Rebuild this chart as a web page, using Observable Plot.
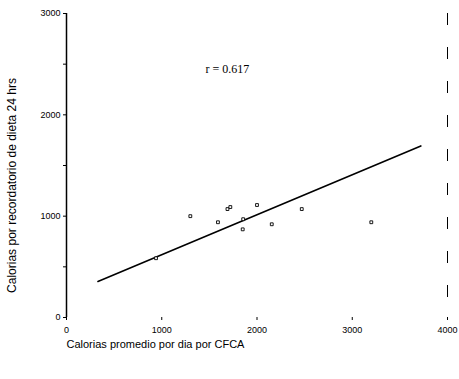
<!DOCTYPE html>
<html><head><meta charset="utf-8">
<script src="https://cdn.jsdelivr.net/npm/d3@7"></script>
<script src="https://cdn.jsdelivr.net/npm/@observablehq/plot@0.6"></script>
<style>
body{margin:0;background:#fff;}
svg{font-family:"Liberation Sans",Arial,sans-serif;}
</style></head>
<body><div id="chart"></div>
<script>
// data
const cfcaCalories = [940, 1300, 1590, 1690, 1720, 1855, 1850, 2000, 2155, 2470, 3200];
const recallCalories = [585, 1000, 940, 1070, 1090, 970, 870, 1110, 920, 1070, 940];
const fitX = [330, 3720];
const fitY = [356, 1693];
const xTicks = [0, 1000, 2000, 3000, 4000];
const yTicks = [0, 1000, 2000, 3000];
const yMinorTicks = [500, 1500, 2500];
const rLabel = ["r = 0.617"];
const rPos = {x: 1690, y: 2450};
const xTitle = ["Calorias promedio por dia por CFCA"];
const yTitle = ["Calorias por recordatorio de dieta 24 hrs"];

const points = cfcaCalories.map((x, i) => ({x, y: recallCalories[i]}));
const fit = fitX.map((x, i) => ({x, y: fitY[i]}));

const chart = Plot.plot({
  width: 459,
  height: 379,
  marginLeft: 66,
  marginRight: 12,
  marginTop: 13,
  marginBottom: 62,
  style: {fontSize: "9px", background: "white", color: "black"},
  x: {type: "linear", domain: [0, 4000]},
  y: {type: "linear", domain: [0, 3000]},
  marks: [
    Plot.ruleX([0], {stroke: "black", strokeWidth: 1.5}),
    Plot.ruleX([4000], {stroke: "black", strokeWidth: 1, strokeDasharray: "12,22"}),
    Plot.axisY({ticks: yMinorTicks, tickSize: 3, tickFormat: () => "", label: null}),
    Plot.axisY({ticks: yTicks, tickSize: 3, tickPadding: 3, tickFormat: d => String(d), label: null, fontSize: 9}),
    Plot.axisX({ticks: xTicks, tickSize: 3, tickPadding: 6, tickFormat: d => String(d), label: null, fontSize: 9}),
    Plot.text(xTitle, {frameAnchor: "bottom-left", text: d => d, textAnchor: "start", dy: 30, fontSize: 11}),
    Plot.text(yTitle, {frameAnchor: "left", text: d => d, textAnchor: "middle", rotate: -90, dx: -54, dy: 20, fontSize: 12}),
    Plot.line(fit, {x: "x", y: "y", stroke: "black", strokeWidth: 1.6}),
    Plot.dot(points, {x: "x", y: "y", symbol: "square", r: 1.6, stroke: "black", strokeWidth: 0.9, fill: "white"}),
    Plot.text(rLabel, {x: () => rPos.x, y: () => rPos.y, text: d => d, fontFamily: "Liberation Serif, serif", fontSize: 12})
  ]
});
document.getElementById("chart").appendChild(chart);
</script>
</body></html>
